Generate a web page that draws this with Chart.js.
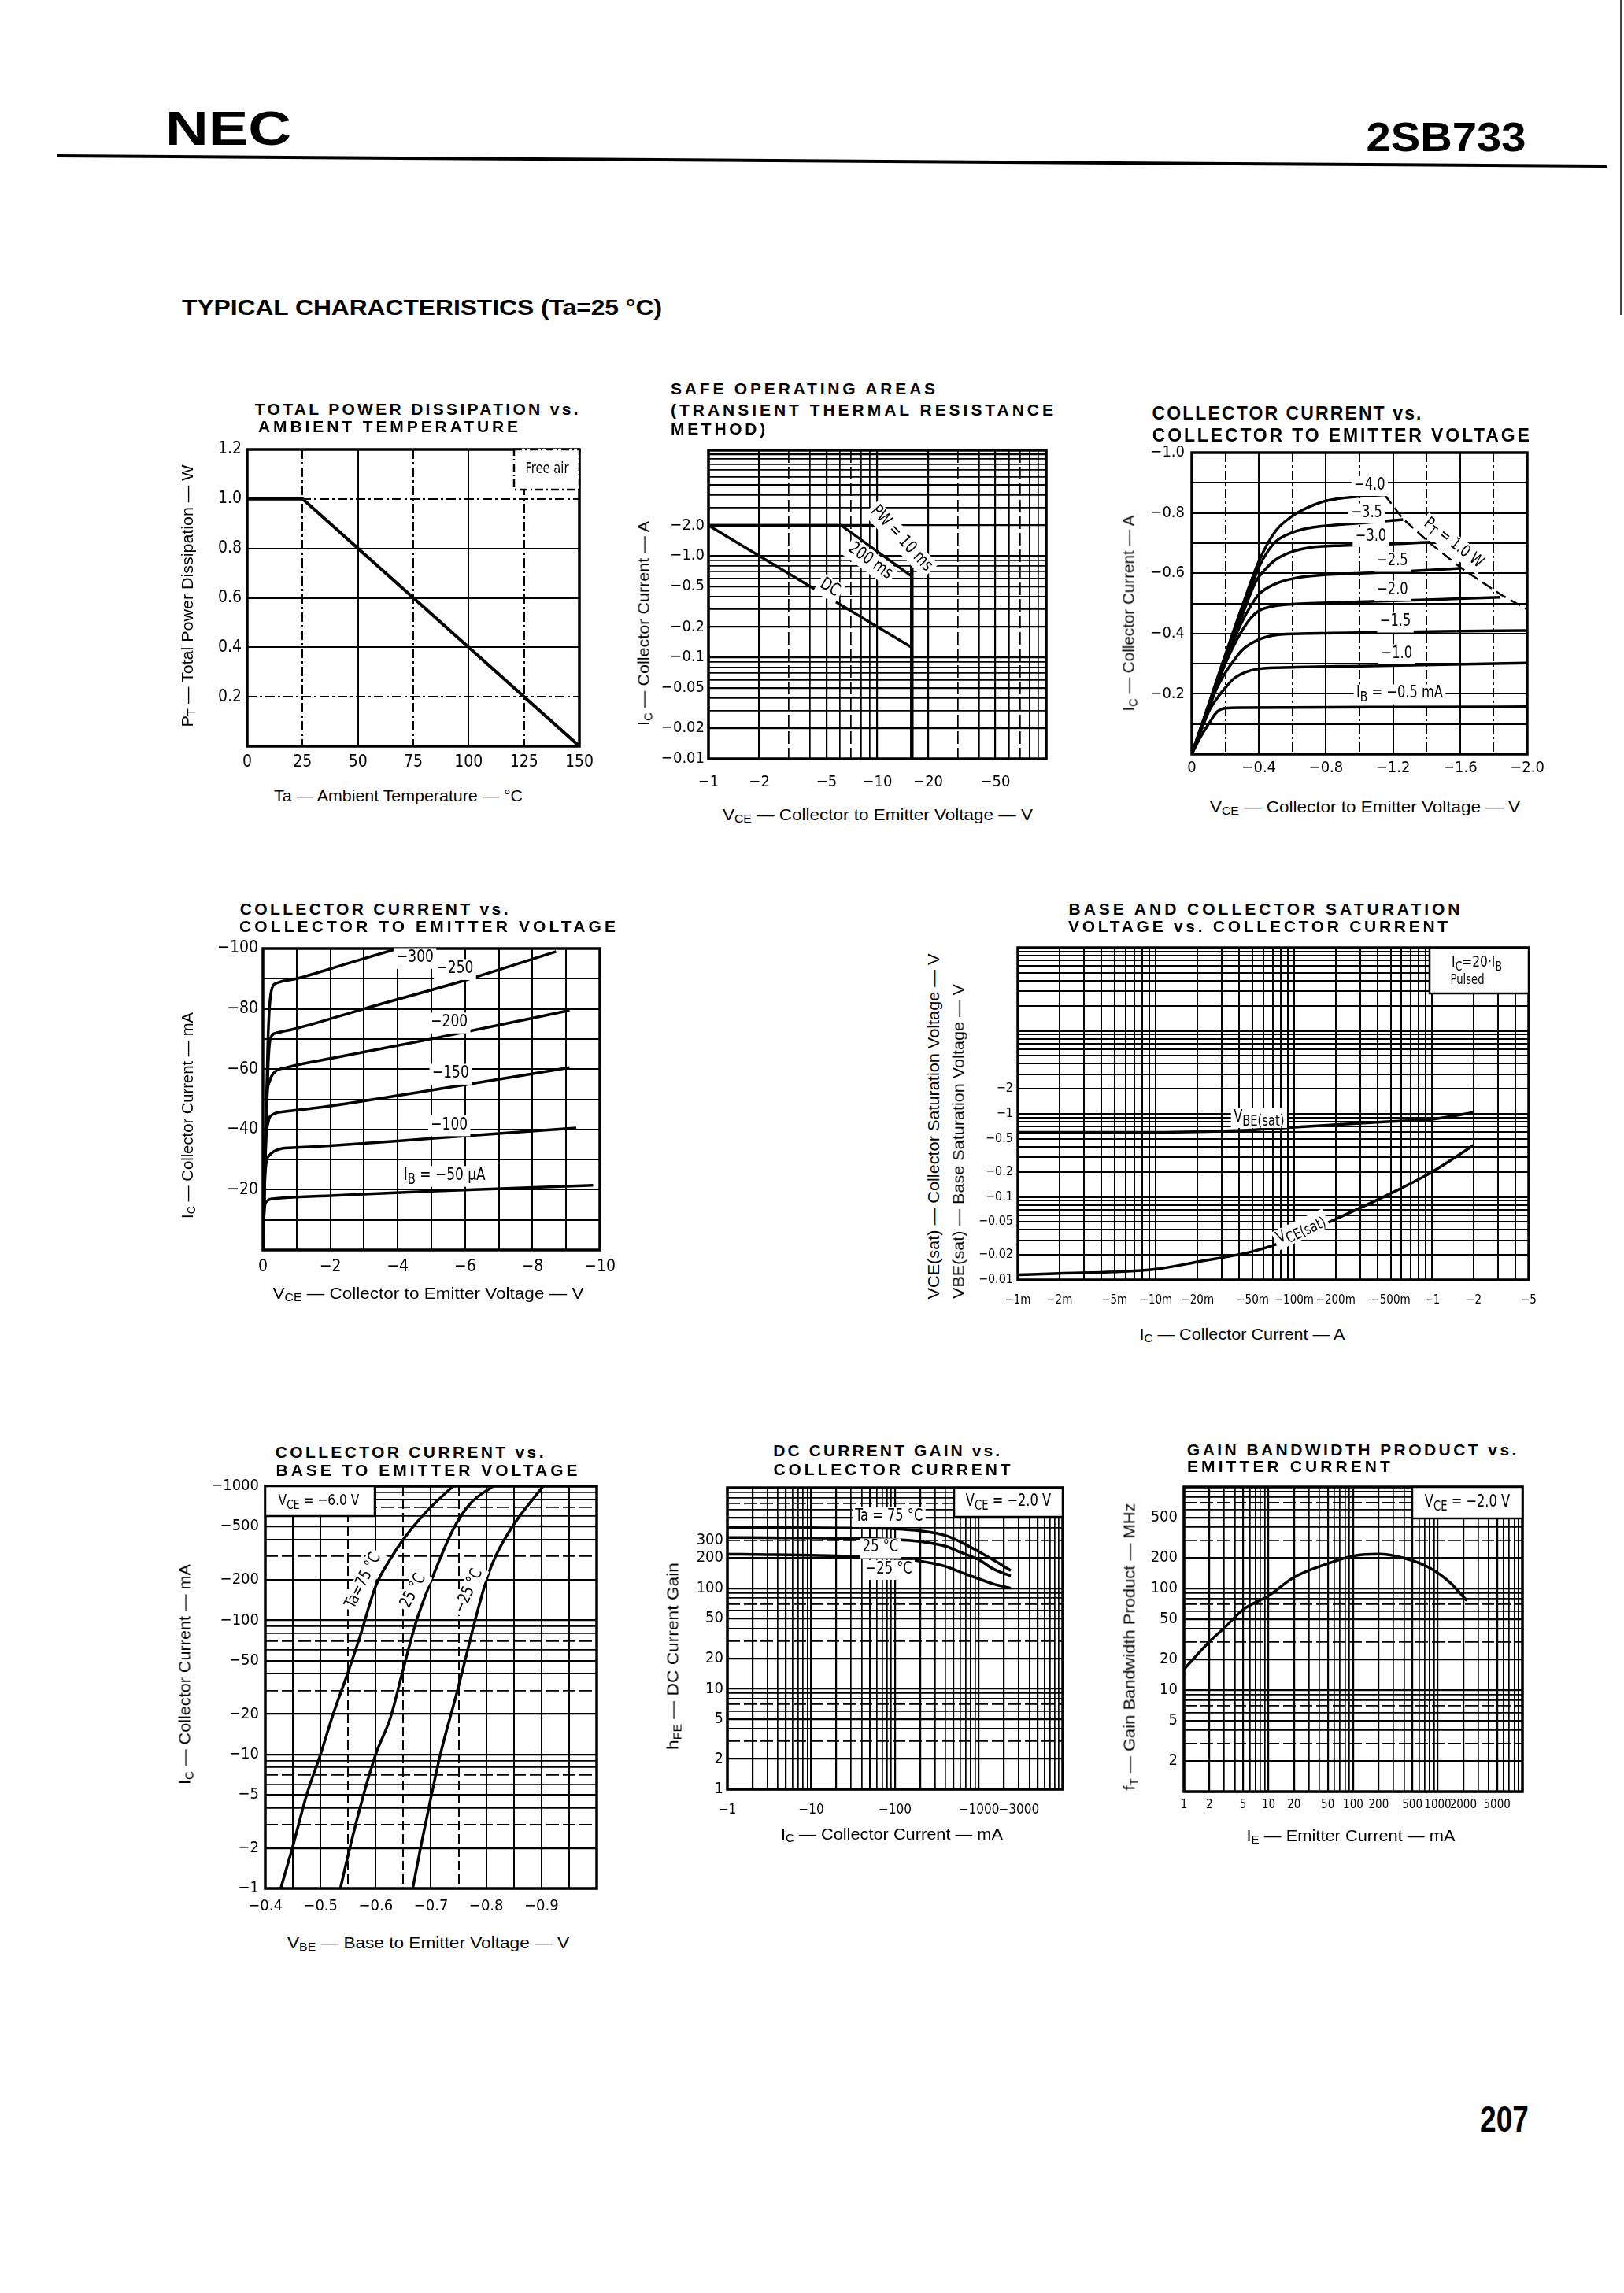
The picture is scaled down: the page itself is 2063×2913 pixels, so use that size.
<!DOCTYPE html>
<html><head><meta charset="utf-8">
<script src="https://cdn.jsdelivr.net/npm/chart.js@4.4.1/dist/chart.umd.min.js"></script>
<style>
html,body{margin:0;padding:0;background:#fff;}
body{width:2063px;height:2913px;position:relative;overflow:hidden;}
.t{position:absolute;white-space:nowrap;line-height:1;color:#000;}
.t sub{font-size:70%;vertical-align:-0.25em;line-height:0;}
</style></head><body>
<script>
// ================= DATA (magnitudes; voltages/currents of this PNP part are negative, shown with "−" in labels) =================
// 1. Total power dissipation vs ambient temperature
const pdTemp = [0, 25, 150];
const pdPower = [1.0, 1.0, 0];
const pdXTicks = [0, 25, 50, 75, 100, 125, 150];
const pdXText = ['0', '25', '50', '75', '100', '125', '150'];
const pdYTicks = [0.2, 0.4, 0.6, 0.8, 1.0, 1.2];
const pdYText = ['0.2', '0.4', '0.6', '0.8', '1.0', '1.2'];

// 2. Safe operating areas
const soa10msV = [1, 10, 16];
const soa10msI = [2.0, 2.0, 0.86];
const soa200msV = [1, 6.1, 16];
const soa200msI = [2.0, 2.0, 0.63];
const soaDcV = [1, 16];
const soaDcI = [2.0, 0.125];
const soaVceoV = [16, 16];
const soaVceoI = [0.86, 0.01];
const soaXTicks = [1, 2, 5, 10, 20, 50];
const soaXText = ['−1', '−2', '−5', '−10', '−20', '−50'];
const soaYTicks = [0.01, 0.02, 0.05, 0.1, 0.2, 0.5, 1, 2];
const soaYText = ['−0.01', '−0.02', '−0.05', '−0.1', '−0.2', '−0.5', '−1.0', '−2.0'];

// 3. IC (A) vs VCE (V), parameter IB (mA)
const ceA_05_V = [0, 0.05, 0.1, 0.15, 0.2, 0.3, 0.6, 1.2, 2.0];
const ceA_05_I = [0, 0.055, 0.1, 0.14, 0.152, 0.154, 0.155, 0.156, 0.157];
const ceA_10_V = [0, 0.05, 0.1, 0.15, 0.2, 0.25, 0.32, 0.4, 0.6, 1.0, 1.5, 2.0];
const ceA_10_I = [0, 0.07, 0.14, 0.185, 0.22, 0.25, 0.272, 0.283, 0.288, 0.292, 0.297, 0.302];
const ceA_15_V = [0, 0.05, 0.1, 0.15, 0.2, 0.25, 0.3, 0.4, 0.5, 0.7, 1.0, 1.5, 2.0];
const ceA_15_I = [0, 0.075, 0.15, 0.22, 0.27, 0.31, 0.345, 0.38, 0.395, 0.4, 0.403, 0.407, 0.41];
const ceA_20_V = [0, 0.1, 0.2, 0.25, 0.3, 0.35, 0.4, 0.5, 0.7, 1.0, 1.4, 1.84];
const ceA_20_I = [0, 0.155, 0.3, 0.36, 0.41, 0.45, 0.475, 0.492, 0.5, 0.505, 0.512, 0.52];
const ceA_25_V = [0, 0.1, 0.2, 0.3, 0.35, 0.4, 0.5, 0.6, 0.8, 1.0, 1.3, 1.6];
const ceA_25_I = [0, 0.16, 0.31, 0.44, 0.49, 0.53, 0.565, 0.582, 0.595, 0.6, 0.607, 0.616];
const ceA_30_V = [0, 0.1, 0.2, 0.3, 0.38, 0.45, 0.5, 0.6, 0.7, 0.9, 1.2, 1.42];
const ceA_30_I = [0, 0.16, 0.315, 0.46, 0.57, 0.62, 0.645, 0.672, 0.685, 0.692, 0.697, 0.703];
const ceA_35_V = [0, 0.1, 0.2, 0.3, 0.4, 0.45, 0.5, 0.6, 0.7, 0.9, 1.1, 1.26];
const ceA_35_I = [0, 0.16, 0.32, 0.47, 0.62, 0.67, 0.705, 0.735, 0.75, 0.762, 0.77, 0.778];
const ceA_40_V = [0, 0.1, 0.2, 0.3, 0.4, 0.5, 0.6, 0.7, 0.8, 1.0, 1.15];
const ceA_40_I = [0, 0.165, 0.33, 0.49, 0.64, 0.74, 0.79, 0.82, 0.84, 0.855, 0.86];
const ceA_PT_V = [1.15, 1.26, 1.42, 1.6, 1.84, 2.0];
const ceA_PT_I = [0.86, 0.78, 0.70, 0.62, 0.53, 0.48];
const ceAXTicks = [0, 0.4, 0.8, 1.2, 1.6, 2.0];
const ceAXText = ['0', '−0.4', '−0.8', '−1.2', '−1.6', '−2.0'];
const ceAYTicks = [0.2, 0.4, 0.6, 0.8, 1.0];
const ceAYText = ['−0.2', '−0.4', '−0.6', '−0.8', '−1.0'];

// 4. IC (mA) vs VCE (V), parameter IB (µA)
const ceM_050_V = [0, 0.02, 0.05, 0.1, 0.3, 0.6, 2, 5, 9.8];
const ceM_050_I = [0, 8, 14, 16, 17, 17.3, 18, 19.5, 21.5];
const ceM_100_V = [0, 0.05, 0.1, 0.2, 0.5, 1, 2, 5, 9.3];
const ceM_100_I = [0, 22, 29, 31.5, 33.5, 34, 34.6, 37, 40.5];
const ceM_150_V = [0, 0.08, 0.15, 0.3, 0.7, 2, 5, 9.1];
const ceM_150_I = [0, 35, 42, 45, 46, 47.8, 53, 60.5];
const ceM_200_V = [0, 0.1, 0.2, 0.35, 0.7, 2, 5, 9.1];
const ceM_200_I = [0, 48, 56, 59, 60.5, 63.5, 70, 79.5];
const ceM_250_V = [0, 0.15, 0.22, 0.4, 1, 3, 6, 8.7];
const ceM_250_I = [0, 60, 70, 72, 73.5, 80, 89.5, 99];
const ceM_300_V = [0, 0.15, 0.25, 0.4, 1, 2.5, 4];
const ceM_300_I = [0, 70, 86, 88.5, 90, 95, 100];
const ceMXTicks = [0, 2, 4, 6, 8, 10];
const ceMXText = ['0', '−2', '−4', '−6', '−8', '−10'];
const ceMYTicks = [20, 40, 60, 80, 100];
const ceMYText = ['−20', '−40', '−60', '−80', '−100'];

// 5. Saturation voltages vs IC (A)
const satIc = [0.001, 0.002, 0.005, 0.01, 0.02, 0.05, 0.1, 0.2, 0.5, 1, 2];
const satVbe = [0.6, 0.6, 0.6, 0.6, 0.61, 0.64, 0.69, 0.74, 0.81, 0.86, 1.04];
const satVce = [0.0115, 0.012, 0.0125, 0.0135, 0.0165, 0.022, 0.032, 0.054, 0.11, 0.2, 0.42];
const satXTicks = [0.001, 0.002, 0.005, 0.01, 0.02, 0.05, 0.1, 0.2, 0.5, 1, 2, 5];
const satXText = ['−1m', '−2m', '−5m', '−10m', '−20m', '−50m', '−100m', '−200m', '−500m', '−1', '−2', '−5'];
const satYTicks = [0.01, 0.02, 0.05, 0.1, 0.2, 0.5, 1, 2];
const satYText = ['−0.01', '−0.02', '−0.05', '−0.1', '−0.2', '−0.5', '−1', '−2'];

// 6. IC (mA) vs VBE (V)
const vbe75_V = [0.428, 0.449, 0.475, 0.5, 0.523, 0.549, 0.572, 0.6, 0.625, 0.652, 0.694, 0.74];
const vbe75_I = [1, 2, 5, 10, 20, 40, 77, 180, 280, 412, 661, 1000];
const vbe25_V = [0.536, 0.553, 0.578, 0.6, 0.627, 0.647, 0.673, 0.699, 0.74, 0.771, 0.812];
const vbe25_I = [1, 2, 5, 10, 19, 39, 97, 191, 475, 740, 1000];
const vbeM25_V = [0.667, 0.681, 0.701, 0.717, 0.748, 0.766, 0.779, 0.802, 0.817, 0.846, 0.903];
const vbeM25_I = [1, 2, 5, 10, 30, 59, 97, 210, 300, 490, 1000];
const vbeXTicks = [0.4, 0.5, 0.6, 0.7, 0.8, 0.9];
const vbeXText = ['−0.4', '−0.5', '−0.6', '−0.7', '−0.8', '−0.9'];
const vbeYTicks = [1, 2, 5, 10, 20, 50, 100, 200, 500, 1000];
const vbeYText = ['−1', '−2', '−5', '−10', '−20', '−50', '−100', '−200', '−500', '−1000'];

// 7. hFE vs IC (mA)
const hfeIc = [1, 3, 10, 30, 100, 200, 400, 600, 1000, 1500, 2400];
const hfe75 = [405, 403, 400, 397, 390, 372, 335, 290, 231, 190, 150];
const hfe25 = [320, 318, 316, 313, 305, 292, 262, 228, 192, 155, 132];
const hfeM25 = [218, 216, 213, 208, 198, 186, 165, 145, 124, 110, 100];
const hfeXTicks = [1, 10, 100, 1000, 3000];
const hfeXText = ['−1', '−10', '−100', '−1000', '−3000'];
const hfeYTicks = [1, 2, 5, 10, 20, 50, 100, 200, 300];
const hfeYText = ['1', '2', '5', '10', '20', '50', '100', '200', '300'];

// 8. fT vs IE (mA)
const ftIe = [1, 2, 3, 5, 10, 20, 50, 100, 200, 400, 800, 1400, 2200];
const ftMhz = [16, 30, 41, 62, 85, 129, 176, 209, 218, 199, 160, 114, 76];
const ftXTicks = [1, 2, 5, 10, 20, 50, 100, 200, 500, 1000, 2000, 5000];
const ftXText = ['1', '2', '5', '10', '20', '50', '100', '200', '500', '1000', '2000', '5000'];
const ftYTicks = [2, 5, 10, 20, 50, 100, 200, 500];
const ftYText = ['2', '5', '10', '20', '50', '100', '200', '500'];

// ================= HELPERS =================
const FONT = "'Liberation Sans Narrow','DejaVu Sans Condensed','Liberation Sans',Arial,sans-serif";
const FONT_T = "'Liberation Sans',Arial,Helvetica,sans-serif";
const NARROW = 0.86;

function linGrid(a, b, s) { const out = []; const n = Math.round((b - a) / s); for (let i = 0; i <= n; i++) out.push(Math.round((a + i * s) * 1e6) / 1e6); return out; }
function logGrid(a, b) { const out = []; for (let e = Math.floor(Math.log10(a)); e <= Math.ceil(Math.log10(b)); e++) for (let m = 1; m <= 9; m++) { const v = parseFloat((m * Math.pow(10, e)).toPrecision(6)); if (v >= a * (1 - 1e-9) && v <= b * (1 + 1e-9)) out.push(v); } return out; }
function mant(v) { const e = Math.floor(Math.log10(v) + 1e-9); return Math.round(v / Math.pow(10, e)); }
const dashFew = v => [3, 7].includes(mant(v)) ? [16, 5] : null;
const lwLog = v => [1, 2, 5].includes(mant(v)) ? 2.2 : 1.7;
const near = (list) => (v => list.some(a => Math.abs(a - v) < 1e-6));

function pts(xs, ys) { return xs.map((x, i) => ({ x: x, y: ys[i] })); }
function ds(xs, ys, o) { return Object.assign({ data: pts(xs, ys), borderColor: '#000', borderWidth: 3.5, pointRadius: 0, fill: false, tension: 0 }, o || {}); }
const SM = { cubicInterpolationMode: 'monotone' };

function mkAxis(o, ax) {
  const isX = ax === 'x';
  return {
    type: o.type || 'linear', min: o.min, max: o.max, position: isX ? 'bottom' : 'left',
    afterBuildTicks: s => { s.ticks = o.grid.map(v => ({ value: v })); },
    afterFit: s => { if (isX) s.height = o.size; else s.width = o.size; },
    ticks: {
      autoSkip: false, maxRotation: 0, minRotation: 0, padding: o.pad, color: '#000',
      font: { family: FONT, size: o.fs || 20 },
      callback: v => { const i = o.tv.findIndex(a => Math.abs(a - v) <= Math.abs(a) * 1e-6 + 1e-9); return i < 0 ? '' : o.tt[i]; }
    },
    grid: { color: '#000', lineWidth: c => (o.lw && c.tick ? o.lw(c.tick.value) : 2), drawTicks: false },
    border: { display: false, dash: c => (o.dash && c.tick ? (o.dash(c.tick.value) || []) : []) }
  };
}

function parseRich(s) { const seg = []; const re = /_\{([^}]*)\}/g; let last = 0, m; while ((m = re.exec(s))) { if (m.index > last) seg.push([s.slice(last, m.index), 0]); seg.push([m[1], 1]); last = re.lastIndex; } if (last < s.length) seg.push([s.slice(last), 0]); return seg; }
function drawRich(ctx, s, cx, cy, fs, ang, bg, subk) {
  const seg = parseRich(s);
  const sk = subk || 0.74;
  const f = sub => (sub ? Math.round(fs * sk) : fs) + 'px ' + FONT;
  let w = 0; seg.forEach(([t, sub]) => { ctx.font = f(sub); w += ctx.measureText(t).width; });
  ctx.save(); ctx.translate(cx, cy); ctx.rotate(ang); ctx.scale(NARROW, 1);
  if (bg) { ctx.fillStyle = '#fff'; ctx.fillRect(-w / 2 - 4, -fs * 0.55, w + 8, fs * 1.2); }
  ctx.fillStyle = '#000'; ctx.textBaseline = 'middle'; ctx.textAlign = 'left';
  let x = -w / 2;
  seg.forEach(([t, sub]) => { ctx.font = f(sub); ctx.fillText(t, x, sub ? fs * 0.27 : 0); x += ctx.measureText(t).width; });
  ctx.restore();
}

function mkAnnot(spec) {
  return {
    id: 'annot',
    afterDatasetsDraw(chart) {
      const ctx = chart.ctx, ca = chart.chartArea, sx = chart.scales.x, sy = chart.scales.y;
      ctx.save();
      ctx.strokeStyle = '#000'; ctx.lineWidth = 3.5; ctx.setLineDash([]);
      ctx.strokeRect(ca.left, ca.top, ca.right - ca.left, ca.bottom - ca.top);
      (spec.boxes || []).forEach(b => {
        const x = b.anchor === 'tr' ? ca.right - b.w : ca.left;
        const y = ca.top;
        ctx.fillStyle = '#fff'; ctx.fillRect(x, y, b.w, b.h);
        ctx.lineWidth = 2.5; ctx.setLineDash(b.dash || []); ctx.strokeStyle = '#000';
        ctx.strokeRect(x, y, b.w, b.h); ctx.setLineDash([]);
        b.lines.forEach(l => drawRich(ctx, l.t, x + l.dx, y + l.dy, l.fs, 0, false, 0.8));
      });
      (spec.labels || []).forEach(l => {
        const px = sx.getPixelForValue(l.x), py = sy.getPixelForValue(l.y);
        let ang = 0;
        if (l.along) { const a = l.along; ang = Math.atan2(sy.getPixelForValue(a[3]) - sy.getPixelForValue(a[1]), sx.getPixelForValue(a[2]) - sx.getPixelForValue(a[0])); }
        else if (l.deg) ang = l.deg * Math.PI / 180;
        drawRich(ctx, l.t, px, py, l.fs || 21, ang, l.bg !== false, l.sk);
      });
      ctx.restore();
    }
  };
}

function makeChart(rect, xo, yo, datasets, annot) {
  const padL = 95, padT = 20, padR = 45, padB = 50;
  const W = rect[2] - rect[0], H = rect[3] - rect[1];
  const cv = document.createElement('canvas');
  cv.width = W + padL + padR; cv.height = H + padT + padB;
  Object.assign(cv.style, { position: 'absolute', left: (rect[0] - padL) + 'px', top: (rect[1] - padT) + 'px', width: cv.width + 'px', height: cv.height + 'px' });
  document.body.appendChild(cv);
  xo.size = padB; yo.size = padL;
  return new Chart(cv, {
    type: 'line',
    data: { datasets: datasets },
    options: {
      responsive: false, animation: false, devicePixelRatio: 1, events: [],
      layout: { padding: { left: 0, top: padT, right: padR, bottom: 0 } },
      plugins: { legend: { display: false }, tooltip: { enabled: false } },
      scales: { x: mkAxis(xo, 'x'), y: mkAxis(yo, 'y') }
    },
    plugins: [mkAnnot(annot || {})]
  });
}

function putText(h, cx, cy, w, fs, opt) {
  opt = opt || {};
  const d = document.createElement('div'); d.className = 't'; d.innerHTML = h;
  d.style.fontSize = fs + 'px'; d.style.fontWeight = opt.fw || 400; d.style.fontFamily = opt.ff || FONT_T;
  d.style.left = cx + 'px'; d.style.top = cy + 'px';
  document.body.appendChild(d);
  let nat = d.getBoundingClientRect().width;
  let k = w / nat;
  if (opt.fit === 'ls' && k > 1) {
    const n = d.textContent.length;
    d.style.letterSpacing = ((w - nat) / n) + 'px';
    d.style.paddingLeft = ((w - nat) / n / 2) + 'px';
    k = 1;
  }
  d.style.transform = 'translate(-50%,-50%) rotate(' + (opt.r || 0) + 'deg) scaleX(' + k + ')';
}

// ================= PAGE DECORATION =================
(function () {
  const ln = document.createElement('div');
  Object.assign(ln.style, { position: 'absolute', left: '72px', top: '196px', width: '1970px', height: '4px', background: '#000', transformOrigin: '0 50%', transform: 'rotate(0.38deg)' });
  document.body.appendChild(ln);
  const rl = document.createElement('div');
  Object.assign(rl.style, { position: 'absolute', left: '2058px', top: '0px', width: '2px', height: '400px', background: '#444' });
  document.body.appendChild(rl);
})();

// ================= CHARTS =================
// 1
makeChart([314, 571, 736, 948],
  { min: 0, max: 150, grid: linGrid(0, 150, 25), tv: pdXTicks, tt: pdXText, pad: 8, fs: 21, dash: v => near([25, 75, 125])(v) ? [12, 4, 3, 4] : null },
  { min: 0, max: 1.2, grid: linGrid(0, 1.2, 0.2), tv: pdYTicks, tt: pdYText, pad: 7, fs: 21, dash: v => near([1.0, 0.2])(v) ? [12, 4, 3, 4] : null },
  [ds(pdTemp, pdPower, { borderWidth: 4 })],
  { boxes: [{ anchor: 'tr', w: 83, h: 51, dash: [10, 4, 2, 4], lines: [{ t: 'Free air', dx: 42, dy: 25, fs: 19 }] }] });

// 2
makeChart([900, 572, 1329, 964],
  { type: 'logarithmic', min: 1, max: 100, grid: logGrid(1, 100), tv: soaXTicks, tt: soaXText, pad: 18, lw: lwLog, dash: dashFew },
  { type: 'logarithmic', min: 0.01, max: 11, grid: logGrid(0.01, 11), tv: soaYTicks, tt: soaYText, pad: 5, lw: lwLog },
  [ds(soa10msV, soa10msI), ds(soa200msV, soa200msI), ds(soaDcV, soaDcI), ds(soaVceoV, soaVceoI, { borderWidth: 4.5 })],
  { labels: [
    { t: 'PW = 10 ms', x: 13.9, y: 1.48, along: [10, 2, 16, 0.86], fs: 22 },
    { t: '200 ms', x: 9.1, y: 0.89, along: [6.1, 2, 16, 0.63], fs: 22 },
    { t: 'DC', x: 5.23, y: 0.486, along: [1, 2, 16, 0.125], fs: 22 }
  ] });

// 3
makeChart([1514, 574, 1940, 958],
  { min: 0, max: 2, grid: linGrid(0, 2, 0.2), tv: ceAXTicks, tt: ceAXText, pad: 6, dash: v => near([0.2, 0.6, 1.0, 1.4, 1.8])(v) ? [12, 4, 3, 4] : null },
  { min: 0, max: 1, grid: linGrid(0, 1, 0.1), tv: ceAYTicks, tt: ceAYText, pad: 9 },
  [ds(ceA_05_V, ceA_05_I, SM), ds(ceA_10_V, ceA_10_I, SM), ds(ceA_15_V, ceA_15_I, SM), ds(ceA_20_V, ceA_20_I, SM),
   ds(ceA_25_V, ceA_25_I, SM), ds(ceA_30_V, ceA_30_I, SM), ds(ceA_35_V, ceA_35_I, SM), ds(ceA_40_V, ceA_40_I, SM),
   ds(ceA_PT_V, ceA_PT_I, { borderWidth: 2.5, borderDash: [14, 7] })],
  { labels: [
    { t: '−4.0', x: 1.06, y: 0.892 }, { t: '−3.5', x: 1.043, y: 0.801 }, { t: '−3.0', x: 1.068, y: 0.723 },
    { t: '−2.5', x: 1.197, y: 0.640 }, { t: '−2.0', x: 1.197, y: 0.545 }, { t: '−1.5', x: 1.214, y: 0.439 },
    { t: '−1.0', x: 1.222, y: 0.334 }, { t: 'I_{B} = −0.5 mA', x: 1.239, y: 0.201, sk: 0.85 },
    { t: 'P_{T} = 1.0 W', x: 1.56, y: 0.70, along: [1.26, 0.78, 1.84, 0.53], sk: 0.85 }
  ] });

// 4
makeChart([334, 1205, 762, 1588],
  { min: 0, max: 10, grid: linGrid(0, 10, 1), tv: ceMXTicks, tt: ceMXText, pad: 9, fs: 21 },
  { min: 0, max: 100, grid: linGrid(0, 100, 10), tv: ceMYTicks, tt: ceMYText, pad: 6, fs: 21 },
  [ds(ceM_050_V, ceM_050_I, SM), ds(ceM_100_V, ceM_100_I, SM), ds(ceM_150_V, ceM_150_I, SM),
   ds(ceM_200_V, ceM_200_I, SM), ds(ceM_250_V, ceM_250_I, SM), ds(ceM_300_V, ceM_300_I, SM)],
  { labels: [
    { t: '−300', x: 4.52, y: 97.0, fs: 22 }, { t: '−250', x: 5.70, y: 93.3, fs: 22 }, { t: '−200', x: 5.53, y: 75.6, fs: 22 },
    { t: '−150', x: 5.57, y: 58.6, fs: 22 }, { t: '−100', x: 5.53, y: 41.5, fs: 22 }, { t: 'I_{B} = −50 µA', x: 5.39, y: 24.7, fs: 22, sk: 0.85 }
  ] });

// 5
makeChart([1293, 1204, 1942, 1626],
  { type: 'logarithmic', min: 0.001, max: 5, grid: logGrid(0.001, 5), tv: satXTicks, tt: satXText, pad: 17, fs: 15 },
  { type: 'logarithmic', min: 0.01, max: 100, grid: logGrid(0.01, 100), tv: satYTicks, tt: satYText, pad: 6, fs: 16 },
  [ds(satIc, satVbe, SM), ds(satIc, satVce, SM)],
  { boxes: [{ anchor: 'tr', w: 126, h: 58, lines: [{ t: 'I_{C}=20·I_{B}', dx: 60, dy: 19, fs: 20 }, { t: 'Pulsed', dx: 48, dy: 42, fs: 17 }] }],
    labels: [
      { t: 'V_{BE(sat)}', x: 0.0557, y: 0.91, fs: 21, sk: 0.9 },
      { t: 'V_{CE(sat)}', x: 0.111, y: 0.0413, fs: 21, deg: -25, sk: 0.9 }
    ] });

// 6
makeChart([337, 1888, 758, 2399],
  { min: 0.4, max: 1.0, grid: linGrid(0.4, 1.0, 0.05), tv: vbeXTicks, tt: vbeXText, pad: 11, dash: v => near([0.55, 0.65, 0.75])(v) ? [12, 5] : null },
  { type: 'logarithmic', min: 1, max: 1000, grid: logGrid(1, 1000), tv: vbeYTicks, tt: vbeYText, pad: 8, lw: lwLog, dash: dashFew },
  [ds(vbe75_V, vbe75_I, SM), ds(vbe25_V, vbe25_I, SM), ds(vbeM25_V, vbeM25_I, SM)],
  { boxes: [{ anchor: 'tl', w: 139, h: 38, lines: [{ t: 'V_{CE} = −6.0 V', dx: 68, dy: 19, fs: 20 }] }],
    labels: [
      { t: 'Ta=75 °C', x: 0.5776, y: 197, deg: -63 },
      { t: '25 °C', x: 0.668, y: 165, deg: -62 },
      { t: '−25 °C', x: 0.7685, y: 165, deg: -66 }
    ] });

// 7
makeChart([924, 1890, 1350, 2273],
  { type: 'logarithmic', min: 1, max: 10000, grid: logGrid(1, 10000), tv: hfeXTicks, tt: hfeXText, pad: 16, fs: 17, lw: lwLog },
  { type: 'logarithmic', min: 1, max: 1000, grid: logGrid(1, 1000), tv: hfeYTicks, tt: hfeYText, pad: 5, lw: lwLog, dash: dashFew },
  [ds(hfeIc, hfe75, SM), ds(hfeIc, hfe25, SM), ds(hfeIc, hfeM25, SM)],
  { boxes: [{ anchor: 'tr', w: 138, h: 37, lines: [{ t: 'V_{CE} = −2.0 V', dx: 69, dy: 18, fs: 21 }] }],
    labels: [
      { t: 'Ta = 75 °C', x: 84.5, y: 520 },
      { t: '25 °C', x: 67, y: 254 },
      { t: '−25 °C', x: 84.5, y: 155 }
    ] });

// 8
makeChart([1504, 1889, 1934, 2276],
  { type: 'logarithmic', min: 1, max: 10000, grid: logGrid(1, 10000), tv: ftXTicks, tt: ftXText, pad: 8, fs: 15, lw: lwLog },
  { type: 'logarithmic', min: 1, max: 1000, grid: logGrid(1, 1000), tv: ftYTicks, tt: ftYText, pad: 8, lw: lwLog, dash: dashFew },
  [ds(ftIe, ftMhz, SM)],
  { boxes: [{ anchor: 'tr', w: 140, h: 40, lines: [{ t: 'V_{CE} = −2.0 V', dx: 70, dy: 20, fs: 21 }] }] });

// ================= TEXT =================
const B = { fw: 700, fit: 'ls' };
const TX = [
  ['NEC', 290, 163, 160, 62, { fw: 900 }],
  ['2SB733', 1837, 174, 203, 52, { fw: 700 }],
  ['TYPICAL CHARACTERISTICS (Ta=25 °C)', 536, 391, 610, 27, { fw: 700 }],
  ['207', 1911, 2692, 62, 46, { fw: 700 }],
  ['TOTAL POWER DISSIPATION vs.', 530, 519, 414, 21, B],
  ['AMBIENT TEMPERATURE', 494, 541, 334, 21, B],
  ['SAFE OPERATING AREAS', 1021, 493, 340, 21, B],
  ['(TRANSIENT THERMAL RESISTANCE', 1096, 520, 490, 21, B],
  ['METHOD)', 913, 544, 124, 21, B],
  ['COLLECTOR CURRENT vs.', 1635, 525, 344, 23, B],
  ['COLLECTOR TO EMITTER VOLTAGE', 1704, 553, 482, 23, B],
  ['COLLECTOR CURRENT vs.', 476, 1154, 344, 21, B],
  ['COLLECTOR TO EMITTER VOLTAGE', 544, 1176, 482, 21, B],
  ['BASE AND COLLECTOR SATURATION', 1607, 1154, 501, 21, B],
  ['VOLTAGE vs. COLLECTOR CURRENT', 1599, 1176, 486, 21, B],
  ['COLLECTOR CURRENT vs.', 521, 1844, 344, 21, B],
  ['BASE TO EMITTER VOLTAGE', 543, 1867, 387, 21, B],
  ['DC CURRENT GAIN vs.', 1127, 1842, 291, 21, B],
  ['COLLECTOR CURRENT', 1134, 1866, 305, 21, B],
  ['GAIN BANDWIDTH PRODUCT vs.', 1718, 1841, 422, 21, B],
  ['EMITTER CURRENT', 1638, 1862, 262, 21, B],
  ['P<sub>T</sub> — Total Power Dissipation — W', 237, 757, 333, 21, { r: -90 }],
  ['Ta — Ambient Temperature — °C', 506, 1010, 316, 21, {}],
  ['I<sub>C</sub> — Collector Current — A', 817, 792, 260, 21, { r: -90 }],
  ['V<sub>CE</sub> — Collector to Emitter Voltage — V', 1115, 1034, 394, 21, {}],
  ['I<sub>C</sub> — Collector Current — A', 1433, 779, 249, 21, { r: -90 }],
  ['V<sub>CE</sub> — Collector to Emitter Voltage — V', 1734, 1024, 394, 21, {}],
  ['I<sub>C</sub> — Collector Current — mA', 237, 1417, 262, 21, { r: -90 }],
  ['V<sub>CE</sub> — Collector to Emitter Voltage — V', 544, 1642, 395, 21, {}],
  ['VCE(sat) — Collector Saturation Voltage — V', 1185, 1431, 439, 21, { r: -90 }],
  ['VBE(sat) — Base Saturation Voltage — V', 1217, 1450, 400, 21, { r: -90 }],
  ['I<sub>C</sub> — Collector Current — A', 1578, 1694, 261, 21, {}],
  ['I<sub>C</sub> — Collector Current — mA', 234, 2127, 280, 21, { r: -90 }],
  ['V<sub>BE</sub> — Base to Emitter Voltage — V', 544, 2467, 358, 21, {}],
  ['h<sub>FE</sub> — DC Current Gain', 854, 2104, 238, 21, { r: -90 }],
  ['I<sub>C</sub> — Collector Current — mA', 1133, 2329, 282, 21, {}],
  ['f<sub>T</sub> — Gain Bandwidth Product — MHz', 1434, 2092, 365, 21, { r: -90 }],
  ['I<sub>E</sub> — Emitter Current — mA', 1716, 2331, 265, 21, {}]
];
TX.forEach(a => putText(a[0], a[1], a[2], a[3], a[4], a[5]));
</script>
</body></html>
